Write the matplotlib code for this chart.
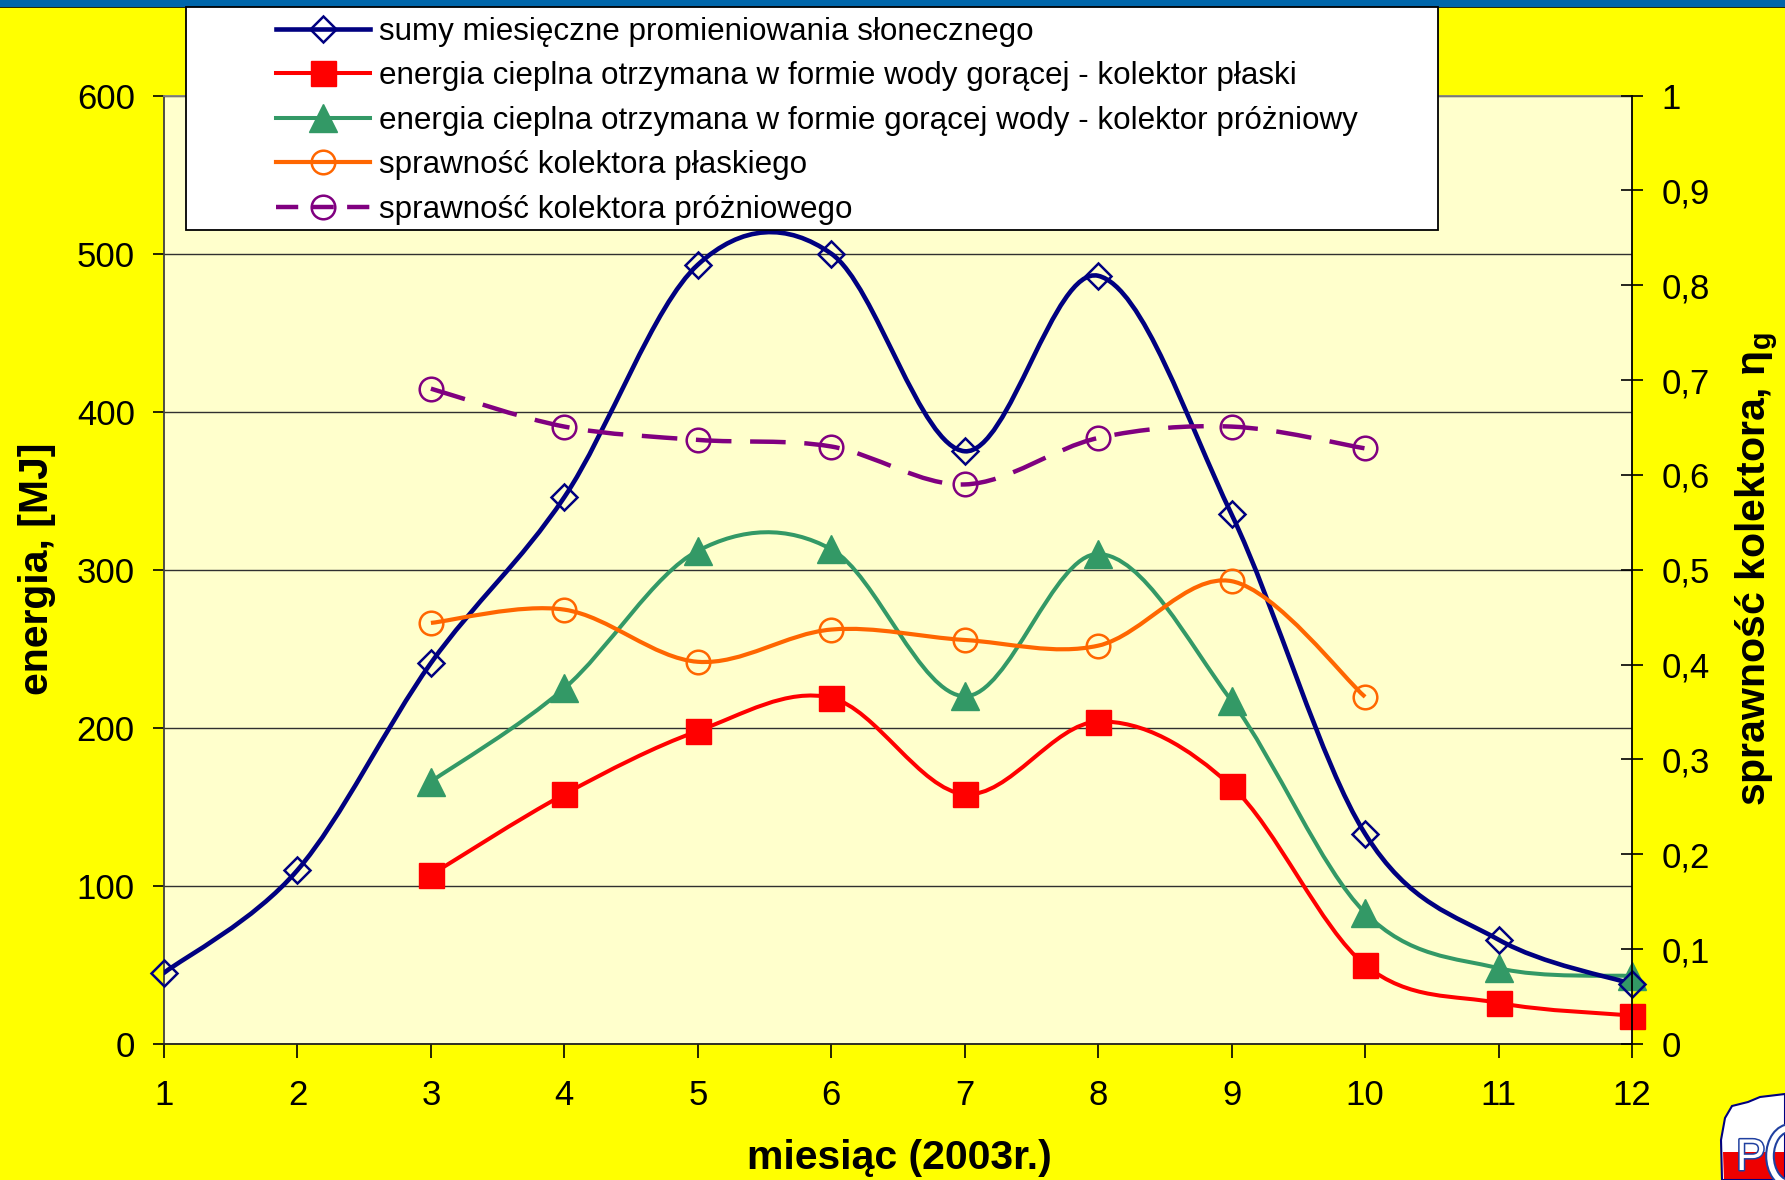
import numpy as np
import matplotlib
matplotlib.use('Agg')
import matplotlib.pyplot as plt
from matplotlib.path import Path
from matplotlib.patches import PathPatch, Rectangle, Polygon, Arc
from matplotlib.lines import Line2D
import matplotlib.patheffects as pe

plt.rcParams['font.family'] = ['Liberation Sans', 'DejaVu Sans']
plt.rcParams['mathtext.fontset'] = 'custom'
plt.rcParams['mathtext.rm'] = 'Liberation Sans'
plt.rcParams['mathtext.bf'] = 'Liberation Sans:bold'
plt.rcParams['mathtext.it'] = 'Liberation Sans:italic'

# ---------------- data ----------------
months = [1, 2, 3, 4, 5, 6, 7, 8, 9, 10, 11, 12]
solar = [45, 110, 241, 346, 493, 500, 375, 486, 335, 133, 66, 38]

months_energy = [3, 4, 5, 6, 7, 8, 9, 10, 11, 12]
flat = [107, 158, 198, 219, 158, 204, 163, 50, 26, 18]
vacuum = [166, 225, 312, 313, 220, 310, 217, 83, 48, 43]

months_eff = [3, 4, 5, 6, 7, 8, 9, 10]
eta_flat = [0.444, 0.458, 0.403, 0.437, 0.426, 0.420, 0.488, 0.366]
eta_vac = [0.691, 0.651, 0.637, 0.630, 0.590, 0.639, 0.651, 0.628]

left_ticks = [0, 100, 200, 300, 400, 500, 600]
right_ticks = [0, 0.1, 0.2, 0.3, 0.4, 0.5, 0.6, 0.7, 0.8, 0.9, 1.0]
right_tick_labels = ['0', '0,1', '0,2', '0,3', '0,4', '0,5', '0,6', '0,7', '0,8', '0,9', '1']

labels = [
    'sumy miesięczne promieniowania słonecznego',
    'energia cieplna otrzymana w formie wody gorącej - kolektor płaski',
    'energia cieplna otrzymana w formie gorącej wody - kolektor próżniowy',
    'sprawność kolektora płaskiego',
    'sprawność kolektora próżniowego',
]
xlabel = 'miesiąc (2003r.)'
ylabel = 'energia, [MJ]'
y2label = r'sprawność kolektora, η$_\mathbf{g}$'

NAVY = '#000080'
RED = '#FF0000'
GREEN = '#339966'
ORANGE = '#FF6600'
PURPLE = '#800080'

W, H = 1785, 1180
DASH = (0, (8.0, 4.2))


def smooth_path(x, y):
    """Excel-like smoothed line (Catmull-Rom Bezier through the data points)."""
    x = np.asarray(x, float)
    y = np.asarray(y, float)
    n = len(x)
    verts = [(x[0], y[0])]
    codes = [Path.MOVETO]
    for i in range(n - 1):
        i0 = max(i - 1, 0)
        i3 = min(i + 2, n - 1)
        c1 = (x[i] + (x[i + 1] - x[i0]) / 6.0, y[i] + (y[i + 1] - y[i0]) / 6.0)
        c2 = (x[i + 1] - (x[i3] - x[i]) / 6.0, y[i + 1] - (y[i3] - y[i]) / 6.0)
        verts += [c1, c2, (x[i + 1], y[i + 1])]
        codes += [Path.CURVE4] * 3
    return Path(verts, codes)


fig = plt.figure(figsize=(W / 100, H / 100), dpi=100, facecolor='#FFFF00')

ax = fig.add_axes([164 / W, 1 - 1044 / H, 1468 / W, 948.4 / H])
ax.set_facecolor('#FFFFCC')
ax2 = ax.twinx()

ax.set_xlim(1, 12)
ax.set_ylim(0, 600)
ax2.set_ylim(0, 1)

ax.set_xticks(months)
ax.set_yticks(left_ticks)
ax2.set_yticks(right_ticks)
ax2.set_yticklabels(right_tick_labels)

ax.yaxis.grid(True, color='#303030', lw=1.0)
ax.set_axisbelow(True)

# spines
ax.spines['left'].set_color('#404040')
ax.spines['bottom'].set_color('#202020')
ax.spines['top'].set_color('#808080')
ax.spines['right'].set_visible(False)
for s in ['left', 'top', 'bottom']:
    ax2.spines[s].set_visible(False)
ax2.spines['right'].set_color('black')
for s in ax.spines.values():
    s.set_linewidth(1.3)
ax2.spines['right'].set_linewidth(1.3)

ax.tick_params(axis='y', direction='out', length=8, width=1.2, labelsize=25, pad=13)
ax.tick_params(axis='x', direction='out', length=10, width=1.2, labelsize=25, pad=15)
ax2.tick_params(axis='y', direction='inout', length=16, width=1.2, labelsize=25, pad=13.5)

# energy series (left axis)
ax.add_patch(PathPatch(smooth_path(months_energy, flat), fill=False, edgecolor=RED, lw=2.9,
                       joinstyle='round', capstyle='round', zorder=3))
ax.add_patch(PathPatch(smooth_path(months_energy, vacuum), fill=False, edgecolor=GREEN, lw=2.9,
                       joinstyle='round', capstyle='round', zorder=3))
ax.add_patch(PathPatch(smooth_path(months, solar), fill=False, edgecolor=NAVY, lw=3.3,
                       joinstyle='round', capstyle='round', zorder=3))
ax.plot(months_energy, flat, linestyle='none', marker='s', ms=18, mfc=RED, mec=RED,
        clip_on=False, zorder=4)
ax.plot(months_energy, vacuum, linestyle='none', marker='^', ms=20, mfc=GREEN, mec=GREEN,
        clip_on=False, zorder=4)
ax.plot(months, solar, linestyle='none', marker='D', ms=13.5, mfc='none', mec=NAVY, mew=1.8,
        clip_on=False, zorder=5)

# efficiency series (right axis)
ax2.add_patch(PathPatch(smooth_path(months_eff, eta_flat), fill=False, edgecolor=ORANGE, lw=3.0,
                        joinstyle='round', capstyle='butt', zorder=3))
ax2.add_patch(PathPatch(smooth_path(months_eff, eta_vac), fill=False, edgecolor=PURPLE, lw=3.2,
                        linestyle=DASH, joinstyle='round', capstyle='butt', zorder=3))
ax2.plot(months_eff, eta_flat, linestyle='none', marker='o', ms=17, mfc='none', mec=ORANGE,
         mew=1.8, zorder=4)
ax2.plot(months_eff, eta_vac, linestyle='none', marker='o', ms=17, mfc='none', mec=PURPLE,
         mew=1.8, zorder=4)

# axis titles
fig.text(37.5 / W, 1 - 569 / H, ylabel, rotation=90, fontsize=29.5, fontweight='bold',
         ha='center', va='center')
fig.text(899 / W, 1 - 1158 / H, xlabel, fontsize=29.5, fontweight='bold',
         ha='center', va='center')
fig.text(1757 / W, 1 - 569 / H, y2label, rotation=90, fontsize=29.5, fontweight='bold',
         ha='center', va='center')

# top blue band
fig.patches.append(Rectangle((0, 1 - 6.5 / H), 1, 6.5 / H, transform=fig.transFigure,
                             facecolor='#0066AA', edgecolor='none', zorder=1))
fig.lines.append(Line2D([0, 1], [1 - 7 / H, 1 - 7 / H], transform=fig.transFigure,
                        color='black', lw=1.2, zorder=1))

# legend box
fig.patches.append(Rectangle((186 / W, 1 - 230 / H), 1252 / W, 223 / H, transform=fig.transFigure,
                             facecolor='white', edgecolor='black', lw=1.3, zorder=2))
handles = [
    Line2D([], [], color=NAVY, lw=3.3, marker='D', ms=13.5, mfc='none', mec=NAVY, mew=1.8),
    Line2D([], [], color=RED, lw=2.9, marker='s', ms=18, mfc=RED, mec=RED),
    Line2D([], [], color=GREEN, lw=2.9, marker='^', ms=20, mfc=GREEN, mec=GREEN),
    Line2D([], [], color=ORANGE, lw=3.0, marker='o', ms=17, mfc='none', mec=ORANGE, mew=1.8),
    Line2D([], [], color=PURPLE, lw=3.2, linestyle=(0, (5.0, 3.0)), marker='o', ms=17,
           mfc='none', mec=PURPLE, mew=1.8),
]
leg = fig.legend(handles, labels, loc='upper left', bbox_to_anchor=(276 / W, 1 - 17 / H),
                 frameon=False, fontsize=22.6, handlelength=3.0, handletextpad=0.28,
                 labelspacing=0.46, borderpad=0, borderaxespad=0)
leg.set_zorder(5)

# logo in the lower-right corner (partial, as in the reference)
def fp(pts):
    return [(px / W, 1 - py / H) for px, py in pts]

outline = [(1722, 1180), (1721, 1140), (1725, 1118), (1732, 1106), (1748, 1102), (1760, 1097),
           (1785, 1094), (1785, 1180)]
fig.patches.append(Polygon(fp(outline), closed=True, transform=fig.transFigure,
                           facecolor='white', edgecolor='none', zorder=3))
red_part = [(1724, 1180), (1723, 1152), (1785, 1152), (1785, 1180)]
fig.patches.append(Polygon(fp(red_part), closed=True, transform=fig.transFigure,
                           facecolor='#EE0000', edgecolor='none', zorder=3))
fig.patches.append(Polygon(fp(outline), closed=True, transform=fig.transFigure,
                           facecolor='none', edgecolor='#000080', lw=1.5, zorder=3))
t = fig.text(1736 / W, 1 - 1179 / H, 'P', fontsize=32, color='white', ha='left', va='bottom',
             zorder=4)
t.set_path_effects([pe.withStroke(linewidth=2.2, foreground='#2040A0')])
fig.patches.append(Arc((1790 / W, 1 - 1156 / H), 40 / W, 56 / H, theta1=90, theta2=270,
                       transform=fig.transFigure, edgecolor='#2040A0', lw=7, zorder=4))
fig.patches.append(Arc((1790 / W, 1 - 1156 / H), 40 / W, 56 / H, theta1=90, theta2=270,
                       transform=fig.transFigure, edgecolor='white', lw=4, zorder=4))

fig.savefig('out.png', dpi=100, facecolor=fig.get_facecolor())
